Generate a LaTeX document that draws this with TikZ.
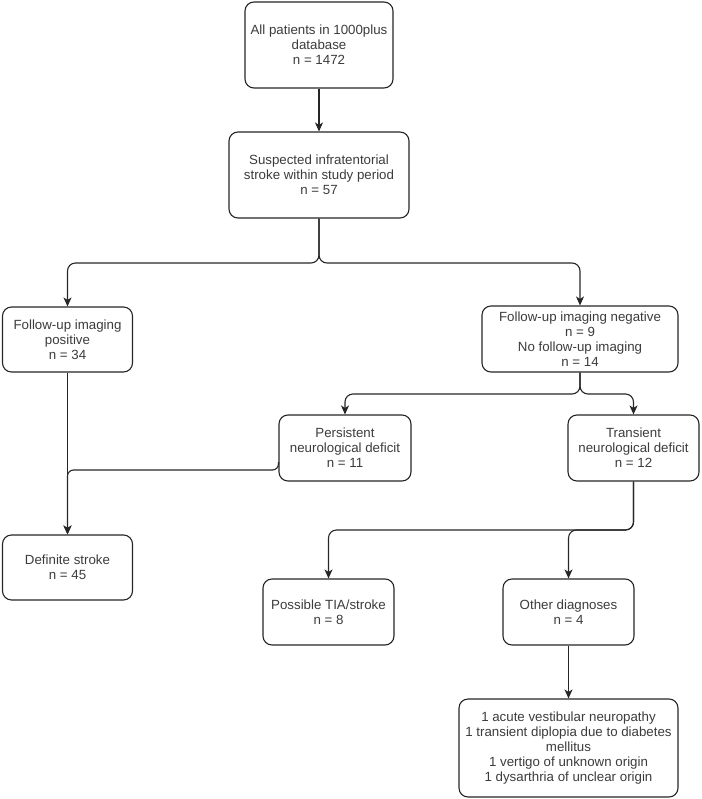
\documentclass[tikz,border=0pt]{standalone}
\usepackage{fontspec}
\setmainfont{Liberation Sans}
\usetikzlibrary{arrows.meta}
\definecolor{txt}{HTML}{3C3C3C}
\definecolor{ln}{HTML}{262626}
\begin{document}
\begin{tikzpicture}[x=1pt,y=-1pt,
 box/.style={draw=ln, line width=1.1pt, rounded corners=9pt, fill=white, align=center, inner sep=0pt, font=\fontsize{13.3}{15}\selectfont, text=txt},
 conn/.style={draw=ln, line width=1.1pt, rounded corners=8pt, -{Stealth[length=9pt,width=8pt,inset=2.5pt]}},
 line/.style={draw=ln, line width=1.1pt, rounded corners=8pt},
]
\useasboundingbox (0,0) rectangle (701,799);
\node[box, minimum width=148pt, minimum height=86pt] (b1) at (319,45) {All patients in 1000plus\\database\\n = 1472};
\node[box, minimum width=180pt, minimum height=86pt] (b2) at (319,175) {Suspected infratentorial\\stroke within study period\\n = 57};
\node[box, minimum width=130pt, minimum height=65pt] (b3) at (67.5,339.5) {Follow-up imaging\\positive\\n = 34};
\node[box, minimum width=196pt, minimum height=66pt] (b4) at (580,339) {Follow-up imaging negative\\n = 9\\No follow-up imaging\\n = 14};
\node[box, minimum width=132pt, minimum height=66pt] (b5) at (345,448) {Persistent\\neurological deficit\\n = 11};
\node[box, minimum width=131pt, minimum height=66pt] (b6) at (633.5,448) {Transient\\neurological deficit\\n = 12};
\node[box, minimum width=130pt, minimum height=65pt] (b7) at (67.5,567.5) {Definite stroke\\n = 45};
\node[box, minimum width=131pt, minimum height=66pt] (b8) at (328.5,612) {Possible TIA/stroke\\n = 8};
\node[box, minimum width=131pt, minimum height=66pt] (b9) at (568.5,612) {Other diagnoses\\n = 4};
\node[box, minimum width=219pt, minimum height=98pt] (b10) at (568.5,748) {1 acute vestibular neuropathy\\1 transient diplopia due to diabetes\\mellitus\\1 vertigo of unknown origin\\1 dysarthria of unclear origin};

\coordinate (j1) at (319,263);
\coordinate (j2) at (580,394);
\coordinate (j3) at (633.5,530);

\draw[conn] (b1) -- (b2);
\draw[conn] (b2.south) -- (j1) -| (b3.north);
\draw[conn] (b2.south) -- (j1) -| (b4.north);
\draw[conn] (b4.south) -- (j2) -| (b5.north);
\draw[conn] (b4.south) -- (j2) -| (b6.north);
\draw[conn] (b3.south) -- (b7.north);
\draw[conn, rounded corners=6pt] ([yshift=-14pt]b5.west) -- ++(0,8) -| (b7.north);
\draw[conn] (b6.south) -- (j3) -| (b8.north);
\draw[conn] (b6.south) -- (j3) -| (b9.north);
\draw[conn] (b9) -- (b10);
\end{tikzpicture}
\end{document}
